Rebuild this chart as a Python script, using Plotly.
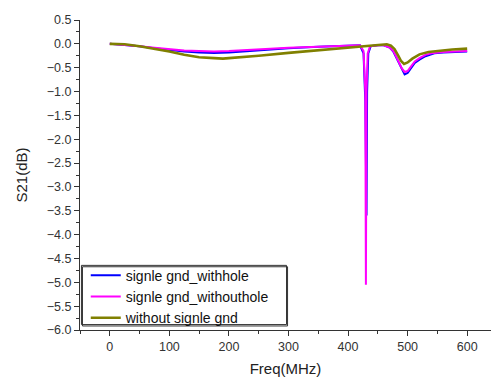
import plotly.graph_objects as go

# Frequency (MHz) and S21 (dB) for each series
freq_withhole = [0, 25, 50, 75, 100, 125, 150, 175, 200, 250, 300, 350, 400, 420, 426, 429, 431, 432, 434, 438,
                 450, 460, 470, 476, 481, 486, 490, 495, 500, 503, 508, 512, 520, 530, 540, 545, 560, 580, 600]
s21_withhole = [0, -0.02, -0.05, -0.09, -0.13, -0.16, -0.18, -0.19, -0.18, -0.13, -0.09, -0.06, -0.04, -0.03, -0.2, -1.2, -3.6, -1.0, -0.2, -0.05,
                -0.03, -0.03, -0.08, -0.16, -0.29, -0.42, -0.54, -0.64, -0.61, -0.55, -0.47, -0.40, -0.33, -0.26, -0.22, -0.20, -0.18, -0.17, -0.16]

freq_withouthole = [0, 25, 50, 75, 100, 125, 150, 175, 200, 250, 300, 350, 400, 420, 426, 429, 430, 431, 433, 437,
                    450, 460, 470, 476, 481, 486, 490, 495, 500, 503, 508, 512, 520, 530, 540, 560, 580, 600]
s21_withouthole = [0, -0.02, -0.05, -0.08, -0.11, -0.14, -0.15, -0.16, -0.15, -0.11, -0.08, -0.06, -0.04, -0.03, -0.15, -1.0, -5.05, -1.0, -0.2, -0.05,
                   -0.03, -0.03, -0.08, -0.15, -0.27, -0.40, -0.51, -0.59, -0.57, -0.52, -0.44, -0.37, -0.30, -0.23, -0.20, -0.17, -0.16, -0.15]

freq_nognd = [0, 25, 50, 75, 100, 125, 150, 175, 190, 200, 225, 250, 300, 350, 400, 440, 455, 465, 472, 478, 484, 489, 494,
              500, 508, 520, 535, 555, 575, 600]
s21_nognd = [0, -0.01, -0.05, -0.10, -0.16, -0.23, -0.28, -0.30, -0.31, -0.30, -0.28, -0.25, -0.19, -0.14, -0.09, -0.04, -0.02, -0.01, -0.04, -0.11, -0.24, -0.36, -0.42,
             -0.39, -0.31, -0.22, -0.17, -0.14, -0.12, -0.10]

series_names = ["signle gnd_withhole", "signle gnd_withouthole", "without signle gnd"]
x_title = "Freq(MHz)"
y_title = "S21(dB)"

fig = go.Figure()
fig.add_trace(go.Scatter(x=freq_withhole, y=s21_withhole, mode="lines", name=series_names[0],
                         line=dict(color="#0000ff", width=2)))
fig.add_trace(go.Scatter(x=freq_withouthole, y=s21_withouthole, mode="lines", name=series_names[1],
                         line=dict(color="#ff00ff", width=2)))
fig.add_trace(go.Scatter(x=freq_nognd, y=s21_nognd, mode="lines", name=series_names[2],
                         line=dict(color="#808000", width=2.6)))

axis_font = dict(family="Liberation Sans, Arial, sans-serif", size=12.5, color="#333333")
title_font = dict(family="Liberation Sans, Arial, sans-serif", size=15, color="#222222")

fig.update_layout(
    width=493, height=377,
    margin=dict(l=80, r=2, t=20, b=47),
    paper_bgcolor="white", plot_bgcolor="white",
    showlegend=True,
    legend=dict(x=0.014, y=-0.012, xanchor="left", yanchor="bottom",
                bgcolor="rgba(0,0,0,0)", borderwidth=0,
                font=dict(family="Liberation Sans, Arial, sans-serif", size=14, color="#111111"),
                tracegroupgap=0, itemwidth=30),
    xaxis=dict(range=[-50, 640], showgrid=False, zeroline=False, automargin=False,
               showline=True, linecolor="#333333", linewidth=1,
               ticks="outside", ticklen=5, tickcolor="#333333", dtick=100, tick0=0,
               minor=dict(ticks="outside", ticklen=3, dtick=50, tick0=0, tickcolor="#333333"),
               tickfont=axis_font,
               title=dict(text=x_title, font=title_font, standoff=11)),
    yaxis=dict(range=[-6.0, 0.5], showgrid=False, zeroline=False, automargin=False,
               showline=True, linecolor="#333333", linewidth=1,
               ticks="outside", ticklen=5, tickcolor="#333333", dtick=0.5, tick0=0, tickformat=".1f",
               minor=dict(ticks="outside", ticklen=3, dtick=0.25, tick0=0, tickcolor="#333333"),
               tickfont=axis_font,
               title=dict(text=y_title, font=title_font, standoff=15)),
    shapes=[
        dict(type="rect", xref="paper", yref="paper", x0=0.006, x1=0.505, y0=0.013, y1=0.204,
             line=dict(color="#333333", width=1), fillcolor="rgba(0,0,0,0)"),
        dict(type="rect", xref="paper", yref="paper", x0=0.0035, x1=0.5025, y0=0.0175, y1=0.2085,
             line=dict(color="#333333", width=1), fillcolor="white", layer="below"),
    ],
)

fig.write_html("out.html", config={"displayModeBar": False},
               post_script="document.body.style.margin='0px';document.body.style.overflow='hidden';")
